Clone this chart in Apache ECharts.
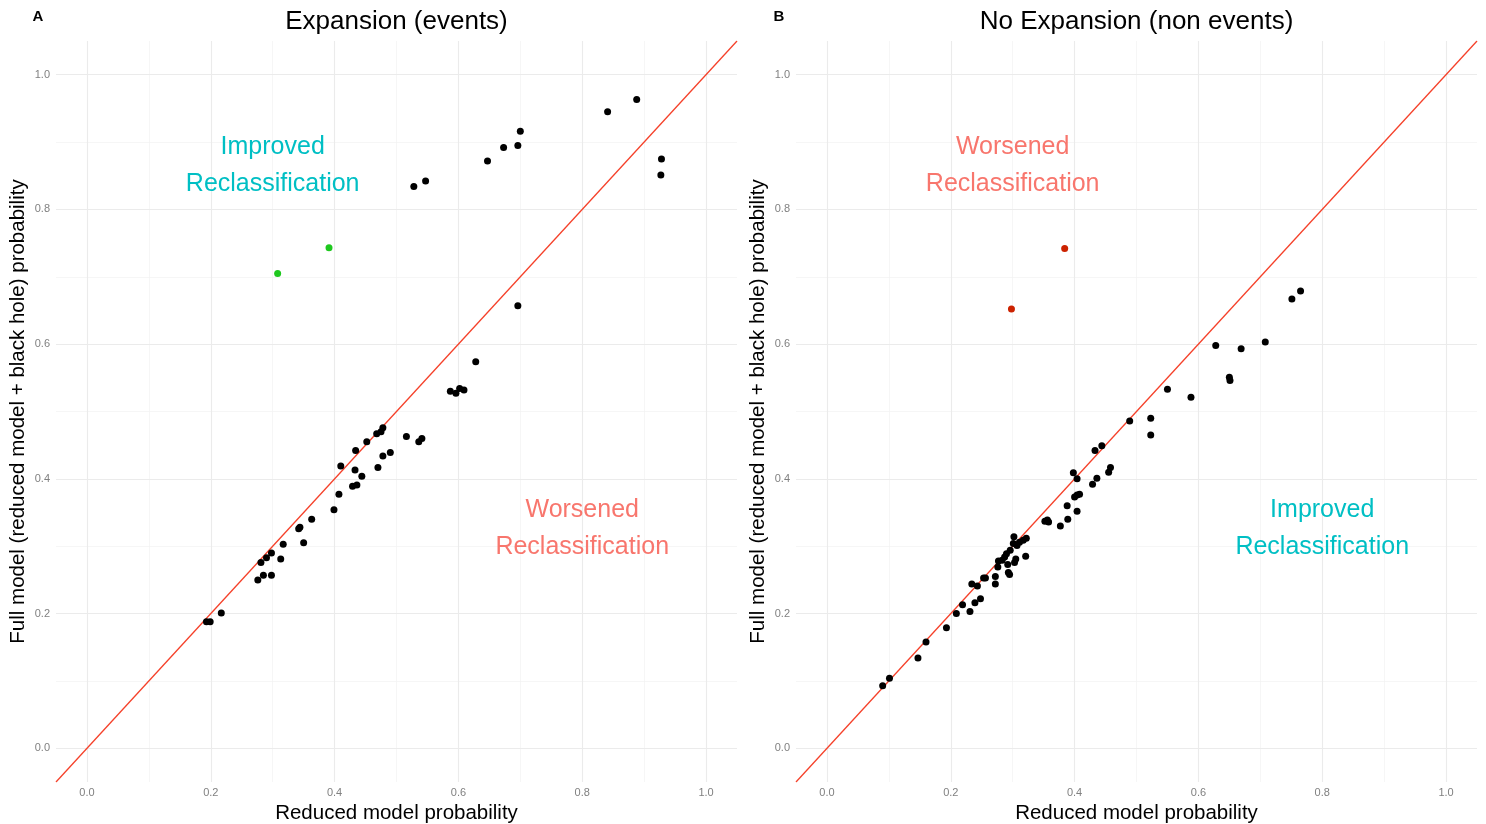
<!DOCTYPE html>
<html>
<head>
<meta charset="utf-8">
<script src="https://cdn.jsdelivr.net/npm/echarts@6/dist/echarts.min.js"></script>
<style>
  html, body { margin: 0; padding: 0; background: #fff; }
  #chart { width: 1486px; height: 824px; }
</style>
</head>
<body>
<div id="chart"></div>
<script>
// axis range and tick values (probability scale)
const LIMITS = [-0.05, 1.05];
const MAJOR = [0, 0.2, 0.4, 0.6, 0.8, 1.0];
const MINOR = [0.1, 0.3, 0.5, 0.7, 0.9];

// panel A: events, [reduced, full]
const eventsPoints = [
  [0.528, 0.834], [0.547, 0.842], [0.647, 0.872], [0.673, 0.892], [0.696, 0.895],
  [0.700, 0.916], [0.841, 0.945], [0.888, 0.963], [0.928, 0.875], [0.927, 0.851],
  [0.696, 0.657],
  [0.193, 0.188], [0.199, 0.188], [0.217, 0.201], [0.276, 0.250], [0.281, 0.276],
  [0.285, 0.257], [0.290, 0.283], [0.298, 0.290], [0.298, 0.257], [0.313, 0.281],
  [0.317, 0.303], [0.342, 0.326], [0.344, 0.328], [0.350, 0.305], [0.363, 0.340],
  [0.399, 0.354], [0.407, 0.377], [0.410, 0.419], [0.429, 0.389], [0.436, 0.391],
  [0.433, 0.413], [0.444, 0.404], [0.434, 0.442], [0.452, 0.455], [0.468, 0.467],
  [0.475, 0.470], [0.478, 0.476], [0.470, 0.417], [0.478, 0.434], [0.490, 0.439],
  [0.516, 0.463], [0.536, 0.455], [0.541, 0.460], [0.587, 0.530], [0.596, 0.527],
  [0.602, 0.534], [0.609, 0.532], [0.628, 0.574]
];
const eventsHighlight = [[0.308, 0.705], [0.391, 0.743]];

// panel B: non events, [reduced, full]
const nonEventsPoints = [
  [0.090, 0.093], [0.101, 0.104], [0.147, 0.134], [0.160, 0.158], [0.193, 0.179],
  [0.209, 0.200], [0.219, 0.213], [0.231, 0.203], [0.239, 0.216], [0.248, 0.222],
  [0.234, 0.244], [0.243, 0.241], [0.253, 0.253], [0.256, 0.253], [0.272, 0.255],
  [0.272, 0.244], [0.277, 0.278], [0.276, 0.269], [0.283, 0.279], [0.287, 0.284],
  [0.292, 0.273], [0.293, 0.261], [0.295, 0.258], [0.290, 0.289], [0.296, 0.294],
  [0.302, 0.314], [0.303, 0.276], [0.305, 0.281], [0.301, 0.304], [0.307, 0.301],
  [0.311, 0.306], [0.317, 0.309], [0.322, 0.312], [0.321, 0.285], [0.352, 0.337],
  [0.356, 0.339], [0.358, 0.336], [0.377, 0.330], [0.389, 0.340], [0.388, 0.360],
  [0.404, 0.352], [0.400, 0.373], [0.404, 0.376], [0.408, 0.377], [0.398, 0.409],
  [0.404, 0.400], [0.429, 0.392], [0.436, 0.401], [0.455, 0.410], [0.458, 0.417],
  [0.433, 0.442], [0.444, 0.449], [0.489, 0.486], [0.523, 0.490], [0.523, 0.465],
  [0.550, 0.533], [0.588, 0.521], [0.628, 0.598], [0.650, 0.551], [0.651, 0.546],
  [0.669, 0.593], [0.708, 0.603], [0.751, 0.667], [0.765, 0.679]
];
const nonEventsHighlight = [[0.298, 0.652], [0.384, 0.742]];

// annotation anchors: [reduced, full, text, colour]
const notesA = [
  [0.30, 0.865, 'Improved\nReclassification', '#00bfc4'],
  [0.80, 0.326, 'Worsened\nReclassification', '#f8766d']
];
const notesB = [
  [0.30, 0.865, 'Worsened\nReclassification', '#f8766d'],
  [0.80, 0.326, 'Improved\nReclassification', '#00bfc4']
];

const FONT = '"Liberation Sans", Arial, sans-serif';
const chart = echarts.init(document.getElementById('chart'));

function makeAxes(i) {
  const common = {
    gridIndex: i,
    type: 'value',
    min: LIMITS[0],
    max: LIMITS[1],
    axisLine: { show: false },
    axisTick: { show: false },
    splitLine: { show: false },
    axisLabel: {
      customValues: MAJOR,
      formatter: v => v.toFixed(1),
      color: '#808080',
      fontSize: 11,
      margin: 6,
      fontFamily: FONT
    },
    nameLocation: 'middle',
    nameTextStyle: { fontSize: 20.5, color: '#000', fontFamily: FONT }
  };
  return {
    x: Object.assign({}, common, {
      name: 'Reduced model probability',
      nameGap: 18,
      axisLabel: Object.assign({}, common.axisLabel, { margin: 5 })
    }),
    y: Object.assign({}, common, { name: 'Full model (reduced model + black hole) probability', nameGap: 27 })
  };
}

function gridLineSeries(i) {
  const major = { color: '#ebebeb', width: 1.1, type: 'solid' };
  const minor = { color: '#f2f2f2', width: 0.7, type: 'solid' };
  const lines = [];
  MINOR.forEach(v => {
    lines.push({ xAxis: v, lineStyle: minor });
    lines.push({ yAxis: v, lineStyle: minor });
  });
  MAJOR.forEach(v => {
    lines.push({ xAxis: v, lineStyle: major });
    lines.push({ yAxis: v, lineStyle: major });
  });
  return {
    type: 'scatter',
    xAxisIndex: i,
    yAxisIndex: i,
    data: [],
    z: 0,
    silent: true,
    markLine: {
      z: 0,
      silent: true,
      symbol: 'none',
      label: { show: false },
      emphasis: { disabled: true },
      animation: false,
      data: lines
    }
  };
}

function panelSeries(i, pts, highlight, hiColor, notes) {
  return [
    gridLineSeries(i),
    {
      type: 'line',
      xAxisIndex: i,
      yAxisIndex: i,
      data: [[LIMITS[0], LIMITS[0]], [LIMITS[1], LIMITS[1]]],
      showSymbol: false,
      lineStyle: { color: '#f5412a', width: 1.3 },
      z: 2,
      silent: true
    },
    {
      type: 'scatter',
      xAxisIndex: i,
      yAxisIndex: i,
      data: pts,
      symbolSize: 7,
      itemStyle: { color: '#000', opacity: 1 },
      z: 3
    },
    {
      type: 'scatter',
      xAxisIndex: i,
      yAxisIndex: i,
      data: highlight,
      symbolSize: 7,
      itemStyle: { color: hiColor, opacity: 1 },
      z: 3
    },
    {
      type: 'scatter',
      xAxisIndex: i,
      yAxisIndex: i,
      symbolSize: 1,
      itemStyle: { color: 'rgba(0,0,0,0)', opacity: 1 },
      silent: true,
      z: 4,
      data: notes.map(n => ({
        value: [n[0], n[1]],
        label: {
          show: true,
          position: 'inside',
          formatter: n[2],
          color: n[3],
          opacity: 1,
          fontSize: 25,
          lineHeight: 37,
          align: 'center',
          fontFamily: FONT
        }
      }))
    }
  ];
}

const axA = makeAxes(0);
const axB = makeAxes(1);

const option = {
  animation: false,
  backgroundColor: '#fff',
  grid: [
    { left: 56, right: 749, top: 41, bottom: 42, outerBoundsMode: 'none' },
    { left: 796, right: 9, top: 41, bottom: 42, outerBoundsMode: 'none' }
  ],
  xAxis: [axA.x, axB.x],
  yAxis: [axA.y, axB.y],
  graphic: [
    { type: 'text', x: 38, y: 17, style: { text: 'A', fontSize: 15, fontWeight: 'bold', fill: '#000', textAlign: 'center', textVerticalAlign: 'middle', fontFamily: FONT } },
    { type: 'text', x: 779, y: 17, style: { text: 'B', fontSize: 15, fontWeight: 'bold', fill: '#000', textAlign: 'center', textVerticalAlign: 'middle', fontFamily: FONT } },
    { type: 'text', x: 396.5, y: 22, style: { text: 'Expansion (events)', fontSize: 26, fill: '#000', textAlign: 'center', textVerticalAlign: 'middle', fontFamily: FONT } },
    { type: 'text', x: 1136.5, y: 22, style: { text: 'No Expansion (non events)', fontSize: 26, fill: '#000', textAlign: 'center', textVerticalAlign: 'middle', fontFamily: FONT } }
  ],
  series: [].concat(
    panelSeries(0, eventsPoints, eventsHighlight, '#1ec81e', notesA),
    panelSeries(1, nonEventsPoints, nonEventsHighlight, '#cc2200', notesB)
  )
};

chart.setOption(option);
</script>
</body>
</html>
